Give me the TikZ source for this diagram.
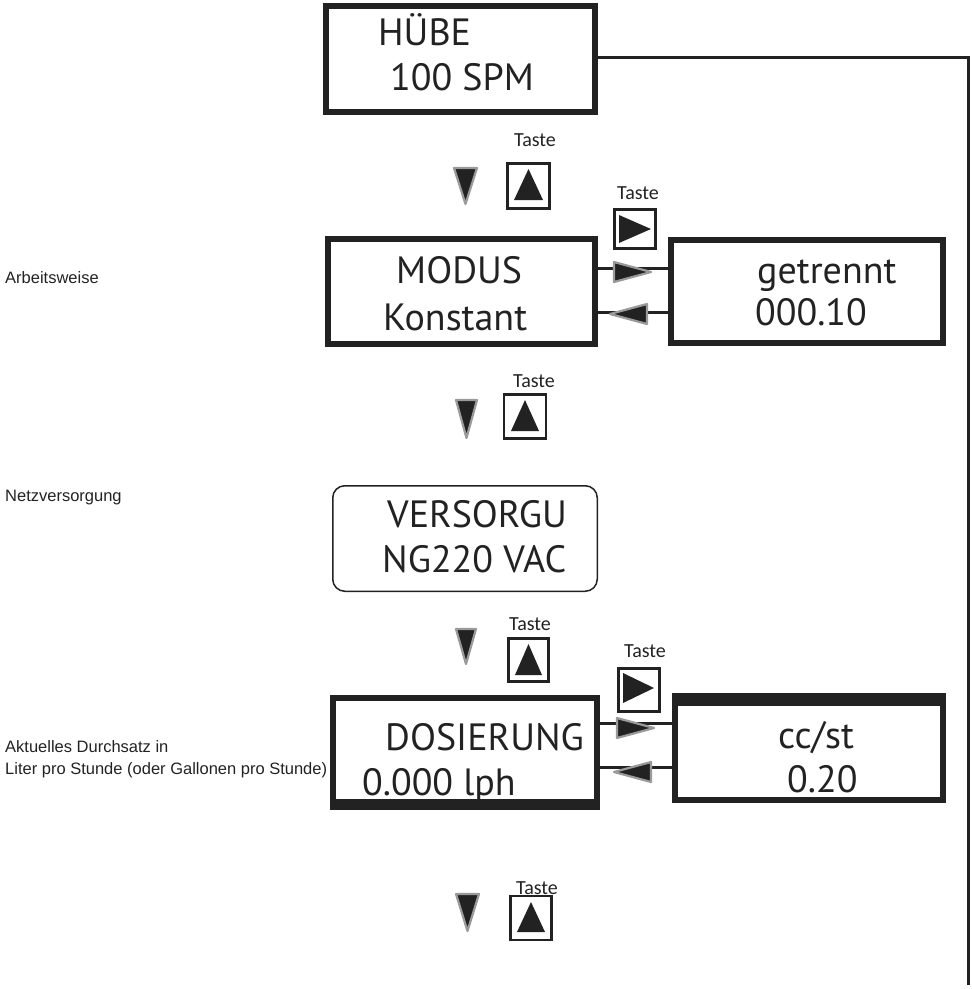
\documentclass[tikz,border=0pt]{standalone}
\usepackage{fontspec}
\setmainfont{PT Sans}
\newfontfamily\tastefont{Carlito}
\newfontfamily\labfont{Liberation Sans}
\definecolor{ink}{HTML}{222222}
\definecolor{edge}{HTML}{9A9A9A}
\tikzset{
  panel/.style={draw=ink, line width=6pt, inner sep=0pt},
  softpanel/.style={draw=ink, line width=1.5pt, rounded corners=12pt, inner sep=0pt},
  big/.style={font=\fontsize{38}{40}\selectfont, text=ink, inner sep=0pt, anchor=base west},
  tastelbl/.style={font=\tastefont\fontsize{20}{22}\selectfont, text=ink, inner sep=0pt, anchor=base},
  sidelbl/.style={font=\labfont\fontsize{16.5}{18}\selectfont, text=ink, inner sep=0pt, anchor=base west},
  keybox/.style={draw=ink, line width=2.6pt, inner sep=0pt},
  wire/.style={draw=ink, line width=3pt},
  shadetri/.style={fill=ink, draw=edge, line width=2.2pt, line join=round},
}
\begin{document}
\begin{tikzpicture}[x=1pt,y=-1pt]
\useasboundingbox (0,0) rectangle (972,989);

% ---------- panels ----------
\node[panel, minimum width=269pt, minimum height=106pt] (hube) at (460.5,59) {};
\node[panel, minimum width=267pt, minimum height=105pt] (modus) at (461.5,291.5) {};
\node[panel, minimum width=272pt, minimum height=103pt] (getr) at (807,291.5) {};
\node[softpanel, minimum width=264.5pt, minimum height=105.5pt] (vers) at (465,538.5) {};
\node[panel, minimum width=264pt, minimum height=104pt] (dos) at (465,750) {};
\fill[ink] (330,799) rectangle (600,810);
\node[panel, minimum width=268pt, minimum height=104pt] (ccst) at (809,748) {};
\fill[ink] (672,693) rectangle (946,706);

% ---------- panel texts ----------
\node[big] (t1) at (378,45) {HÜBE};
\node[big] (t2) at (390,90) {100 SPM};
\node[big] (t3) at (396,283) {MODUS};
\node[big] (t4) at (383,330) {Konstant};
\node[big] (t5) at (757,283) {getrennt};
\node[big] (t6) at (755,325) {000.10};
\node[big] (t7) at (387,527) {VERSORGU};
\node[big] (t8) at (382,572) {NG220 VAC};
\node[big] (t9) at (385,750) {DOSIERUNG};
\node[big] (t10) at (362,795) {0.000 lph};
\node[big] (t11) at (778,748) {cc/st};
\node[big] (t12) at (787,792) {0.20};

% ---------- side labels ----------
\node[sidelbl] (l1) at (5,283) {Arbeitsweise};
\node[sidelbl] (l2) at (5,501) {Netzversorgung};
\node[sidelbl] (l3) at (5,752) {Aktuelles Durchsatz in};
\node[sidelbl] (l4) at (5,774) {Liter pro Stunde (oder Gallonen pro Stunde)};

% ---------- return line ----------
\coordinate (rbot) at (968,985);
\draw[wire] (hube.east |- 0,57) -| (rbot);

% ---------- side connectors ----------
\draw[wire] (modus.east |- 0,268) -- (getr.west |- 0,268);
\draw[wire] (modus.east |- 0,312) -- (getr.west |- 0,312);
\draw[wire] (dos.east |- 0,723) -- (ccst.west |- 0,723);
\draw[wire] (dos.east |- 0,767) -- (ccst.west |- 0,767);
\path[shadetri] (614,262) -- (614,282) -- (651,272) -- cycle;
\path[shadetri] (647,304) -- (647,324) -- (610,314) -- cycle;
\path[shadetri] (617,718) -- (617,738) -- (654,728) -- cycle;
\path[shadetri] (651,762) -- (651,782) -- (614,772) -- cycle;

% ---------- key groups (down triangle + up key) ----------
% group 1
\node[tastelbl] (ta1) at (535,146) {Taste};
\path[shadetri] (454,168) -- (477,168) -- (465.5,204) -- cycle;
\node[keybox, minimum width=42pt, minimum height=45pt] (k1) at (528.5,186) {};
\fill[ink] (528.5,169) -- (543,200) -- (514,200) -- cycle;
% right key 1
\node[tastelbl] (ta2) at (638,199) {Taste};
\node[keybox, minimum width=41pt, minimum height=39pt] (p1) at (635,229) {};
\fill[ink] (619,215) -- (651,229) -- (619,243) -- cycle;
% group 2
\node[tastelbl] (ta3) at (534,387) {Taste};
\path[shadetri] (456,400) -- (477,400) -- (466.5,438) -- cycle;
\node[keybox, minimum width=42pt, minimum height=44pt] (k2) at (525,416.5) {};
\fill[ink] (525,400) -- (539,431) -- (511,431) -- cycle;
% group 3
\node[tastelbl] (ta4) at (530,630) {Taste};
\path[shadetri] (456,629) -- (476,629) -- (466,664) -- cycle;
\node[keybox, minimum width=40pt, minimum height=43pt] (k3) at (528.5,660) {};
\fill[ink] (528.5,644) -- (542,675) -- (515,675) -- cycle;
% right key 2
\node[tastelbl] (ta5) at (645,657) {Taste};
\node[keybox, minimum width=41pt, minimum height=43pt] (p2) at (639,690) {};
\fill[ink] (623,673) -- (654,688) -- (623,703) -- cycle;
% group 4
\node[tastelbl] (ta6) at (537,894) {Taste};
\path[shadetri] (456,894) -- (479,894) -- (467.5,931) -- cycle;
\node[keybox, minimum width=41pt, minimum height=44pt] (k4) at (531,918) {};
\fill[ink] (531,902) -- (545,932) -- (517,932) -- cycle;
\end{tikzpicture}
\end{document}
